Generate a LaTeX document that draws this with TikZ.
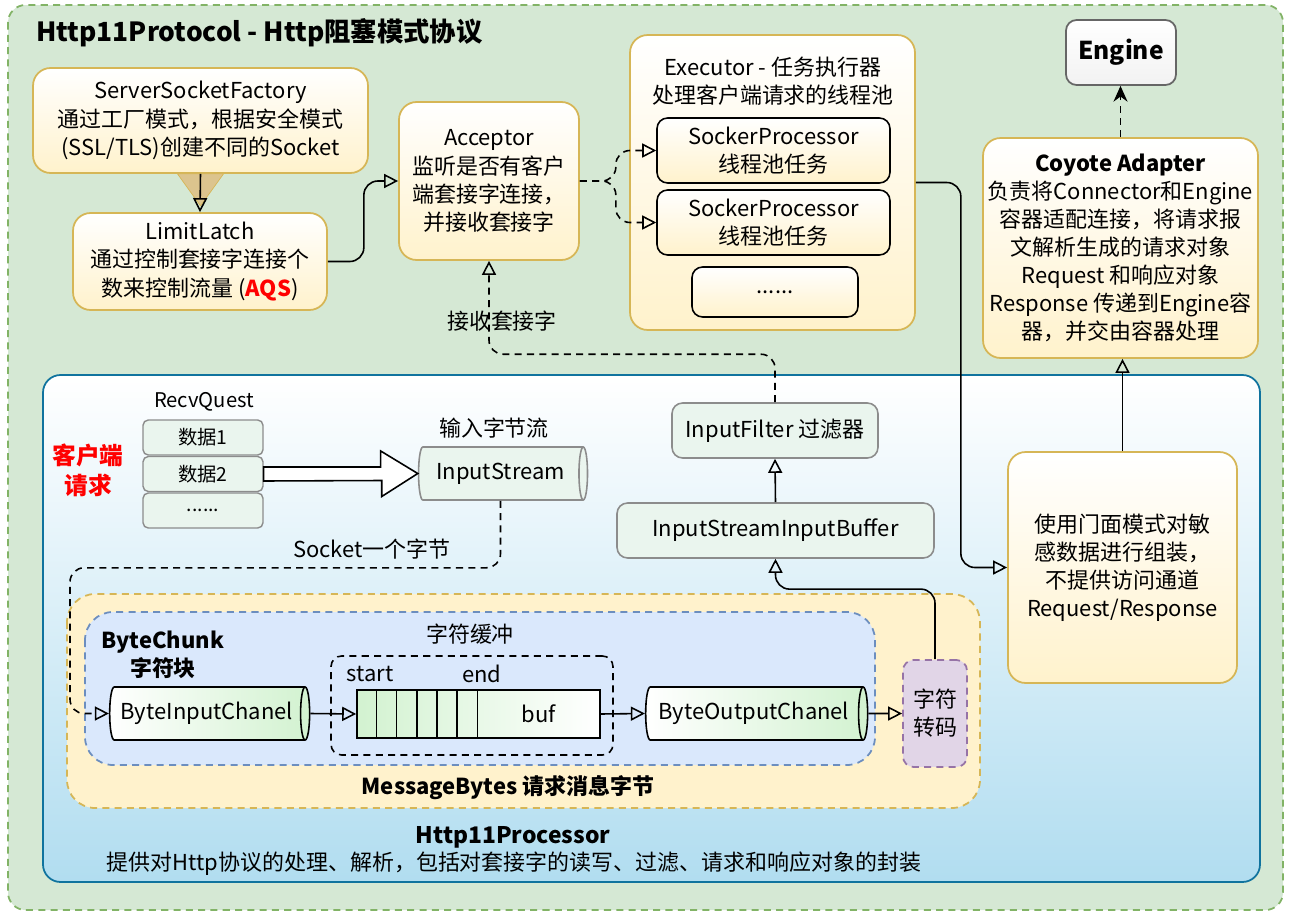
\documentclass[tikz,border=0pt]{standalone}
\usepackage{fontspec}
\setmainfont{Noto Sans CJK SC}
\usetikzlibrary{arrows.meta,shapes.geometric,calc}
\definecolor{bggreen}{HTML}{D5E8D4}
\definecolor{edgegreen}{HTML}{82B366}
\definecolor{noteyellow}{HTML}{FFF2CC}
\definecolor{edgeyellow}{HTML}{D6B656}
\definecolor{procblue}{HTML}{B1DDF0}
\definecolor{edgeblue}{HTML}{10739E}
\definecolor{chunkblue}{HTML}{DAE8FC}
\definecolor{edgechunk}{HTML}{6C8EBF}
\definecolor{convpurple}{HTML}{E1D5E7}
\definecolor{edgepurple}{HTML}{9673A6}
\definecolor{mint}{HTML}{EAF5EE}
\definecolor{pipegreen}{HTML}{D2F2D0}
\definecolor{funnel}{HTML}{DCC48E}
\tikzset{
  yelbox/.style={draw=edgeyellow, line width=1pt, rounded corners=10pt, top color=white, bottom color=noteyellow, align=center, inner sep=0pt},
  taskbox/.style={draw=black, line width=0.9pt, rounded corners=6pt, top color=white, bottom color=noteyellow, align=center, inner sep=0pt},
  mintbox/.style={draw=black!45, line width=0.9pt, rounded corners=6pt, fill=mint, align=center, inner sep=0pt},
  databox/.style={draw=black!45, line width=0.8pt, rounded corners=3pt, fill=mint, minimum width=2.4cm, minimum height=0.7cm, inner sep=0pt, font=\fontsize{11}{13}\selectfont},
  pipe/.style={cylinder, aspect=0.4, draw, line width=0.9pt, left color=white, right color=pipegreen, minimum width=1.06cm, inner sep=0pt},
  hollow/.style={-{Triangle[open,length=8pt,width=8pt]}, line width=0.9pt},
  linkdash/.style={dashed, dash pattern=on 4pt off 3pt},
  boldlbl/.style={font=\bfseries\fontsize{12.5}{16}\selectfont, align=center}
}
\begin{document}
\begin{tikzpicture}[x=0.02cm, y=-0.02cm, font=\fontsize{12.5}{16}\selectfont]
\useasboundingbox (0,0) rectangle (1292,916);
% frames
\draw[draw=edgegreen, fill=bggreen, line width=1pt, linkdash, rounded corners=10pt] (8,5) rectangle (1283,910);
\draw[draw=edgeblue, line width=1pt, top color=white, bottom color=procblue, rounded corners=10pt] (43,375) rectangle (1260,882);
\draw[draw=edgeyellow, fill=noteyellow, line width=1pt, linkdash, rounded corners=16pt] (67,594) rectangle (980,808);
\draw[draw=edgechunk, fill=chunkblue, line width=1pt, linkdash, rounded corners=16pt] (85,612) rectangle (875,765);
\node[font=\bfseries\fontsize{15}{18}\selectfont, anchor=west] (title) at (30,33) {Http11Protocol - Http阻塞模式协议};

% protocol part
\node[yelbox, minimum width=6.7cm, minimum height=2.1cm] (ssf) at (200.5,120.5) {ServerSocketFactory\\通过工厂模式，根据安全模式\\(SSL/TLS)创建不同的Socket};
\node[yelbox, minimum width=5.08cm, minimum height=1.94cm] (latch) at (200,261.5) {LimitLatch\\通过控制套接字连接个\\数来控制流量 ({\color{red}\bfseries AQS})};
\node[yelbox, minimum width=3.6cm, minimum height=3.16cm] (acc) at (489,181) {Acceptor\\监听是否有客户\\端套接字连接，\\并接收套接字};
\node[yelbox, minimum width=5.7cm, minimum height=5.9cm] (exec) at (772.5,182.5) {};
\node[align=center] (exectxt) at (773,81) {Executor - 任务执行器\\处理客户端请求的线程池};
\node[taskbox, minimum width=4.66cm, minimum height=1.3cm] (sp1) at (773.5,150.5) {SockerProcessor\\线程池任务};
\node[taskbox, minimum width=4.66cm, minimum height=1.3cm] (sp2) at (773.5,222.5) {SockerProcessor\\线程池任务};
\node[taskbox, minimum width=3.32cm, minimum height=1cm] (more) at (775,292) {......};
\node[draw=black!60, line width=1pt, rounded corners=6pt, top color=white, bottom color=black!5, minimum width=2.2cm, minimum height=1.3cm, font=\bfseries\fontsize{14}{16}\selectfont] (engine) at (1121,52.5) {Engine};
\node[yelbox, minimum width=5.5cm, minimum height=4.4cm] (coyote) at (1120.5,248) {\textbf{Coyote Adapter}\\负责将Connector和Engine\\容器适配连接，将请求报\\文解析生成的请求对象\\Request 和响应对象\\Response 传递到Engine容\\器，并交由容器处理};

% processor part
\node[yelbox, minimum width=4.58cm, minimum height=4.62cm] (facade) at (1122.5,567.5) {使用门面模式对敏\\感数据进行组装，\\不提供访问通道\\Request/Response};
\node[font=\fontsize{11.5}{14}\selectfont] (recv) at (204,402) {RecvQuest};
\node[databox] (d1) at (203,437.5) {数据1};
\node[databox] (d2) at (203,474) {数据2};
\node[databox] (d3) at (203,510.5) {......};
\node[boldlbl, text=red, font=\bfseries\fontsize{13.5}{17}\selectfont] (client) at (88,470) {客户端\\请求};
\node[pipe, draw=black!45, left color=mint, right color=mint, minimum height=3.38cm] (istream) at (500.5,473.5) {InputStream};
\node (istreamlbl) at (494,428) {输入字节流};
\node[mintbox, minimum width=4.12cm, minimum height=1.1cm] (ifilter) at (775,430.5) {InputFilter 过滤器};
\node[mintbox, minimum width=6.34cm, minimum height=1.1cm] (isib) at (775.5,530.5) {InputStreamInputBuffer};
\node[boldlbl] (chunklbl) at (163,655) {ByteChunk\\字符块};
\node[pipe, minimum height=4cm] (bic) at (207,713.5) {ByteInputChanel};
\node[draw, line width=0.9pt, linkdash, rounded corners=6pt, minimum width=5.64cm, minimum height=1.98cm] (cbuf) at (472,705.5) {};
\node (cbuflbl) at (470,634) {字符缓冲};
\node (startlbl) at (370,674) {start};
\node (endlbl) at (482,674) {end};
\node[draw, line width=0.9pt, left color=pipegreen, right color=white, minimum width=4.86cm, minimum height=0.96cm] (buf) at (478.5,714) {};
\foreach \i in {1,...,6}
  \draw[line width=0.9pt] ([xshift=\i*0.404cm]buf.north west) -- ([xshift=\i*0.404cm]buf.south west);
\node (buflbl) at ([xshift=1.2cm]buf.center) {buf};
\node[pipe, minimum height=4.44cm] (boc) at (754,713.5) {ByteOutputChanel};
\node[draw=edgepurple, fill=convpurple, line width=1pt, linkdash, rounded corners=6pt, minimum width=1.28cm, minimum height=2.14cm, align=center, inner sep=0pt] (conv) at (935,713.5) {字符\\转码};
\node[font=\bfseries\fontsize{13}{16}\selectfont] (proclbl) at (513,837) {Http11Processor};
\node (procdesc) at (514,864) {提供对Http协议的处理、解析，包括对套接字的读写、过滤、请求和响应对象的封装};
\node[font=\bfseries\fontsize{12.5}{16}\selectfont] (msglbl) at (508,788) {MessageBytes 请求消息字节};

% connectors
\fill[funnel, draw=edgeyellow] ([xshift=-0.46cm]ssf.south) -- ([xshift=0.46cm]ssf.south) -- ([yshift=-0.64cm]ssf.south) -- cycle;
\draw[hollow] (ssf.south) -- (latch.north);
\draw[hollow, rounded corners=8pt] (latch.east) -- ++(36,0) |- (acc.west);
\draw[hollow, linkdash, rounded corners=8pt] (acc.east) -- ++(36,0) |- (sp1.west);
\draw[hollow, linkdash, rounded corners=8pt] (acc.east) -- ++(36,0) |- (sp2.west);
\draw[hollow, rounded corners=8pt] (exec.east) -- ++(45,0) |- (facade.west);
\draw[hollow] (facade.north) -- (facade.north |- coyote.south);
\draw[-{Stealth[length=9pt,width=8pt]}, linkdash, line width=0.9pt] (coyote.north) -- (coyote.north |- engine.south);
\draw[hollow, linkdash, rounded corners=8pt] (ifilter.north) -- ++(0,-48) -| (acc.south);
\node (acclbl) at (502,321) {接收套接字};
\draw[hollow] (isib.north) -- (ifilter.south);
\draw[hollow, rounded corners=8pt] (conv.north) -- ++(0,-70) -| (isib.south);
\draw[fill=white, line width=0.9pt] ($(d2.east)+(0,-7)$) -- ++(117,0) -- ++(0,-16) -- (istream.west) -- ++(-36,23) -- ++(0,-16) -- ($(d2.east)+(0,7)$) -- cycle;
\draw[hollow, linkdash, rounded corners=8pt] (istream.south) -- ++(0,67) -- ++(-430.5,0) |- (bic.west);
\node (socklbl) at (372,549) {Socket一个字节};
\draw[hollow] (bic.east) -- (buf.west);
\draw[hollow] (buf.east) -- (boc.west);
\draw[hollow] (boc.east) -- (conv.west);
\end{tikzpicture}
\end{document}
